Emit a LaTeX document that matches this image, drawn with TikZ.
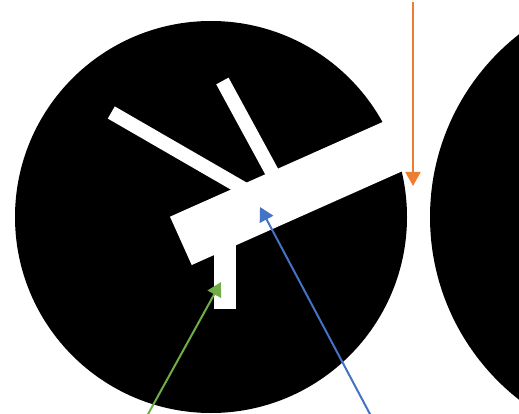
\documentclass[tikz,border=0pt]{standalone}
\usetikzlibrary{arrows.meta}
\definecolor{morange}{RGB}{237,125,49}
\definecolor{mblue}{RGB}{68,114,196}
\definecolor{mgreen}{RGB}{112,173,71}

\begin{document}
\begin{tikzpicture}[x=1pt, y=-1pt,
    disc/.style={fill=black},
    part/.style={fill=white},
    stick/.style={draw=white, line width=14pt},
    arr/.style={-{Triangle[length=14pt, width=15pt]}, line width=2pt},
  ]
    \useasboundingbox (0,0) rectangle (519,414);
    \clip (0,0) rectangle (519,414);

    \fill[disc] (211,217) circle[radius=196];
    \fill[disc] (662,217) circle[radius=232];

    \draw[stick] (111.3,112.5) -- (254.2,195);
    \draw[stick] (222.4,81)    -- (275,177.7);
    \fill[part]  (214,240) rectangle (236,309);
    \fill[part]  (170,216.7) -- (191.7,265) -- (420,163.3) -- (398.4,115) -- cycle;

    \coordinate (otail) at (413,2);
    \coordinate (otip)  at (413,186);
    \coordinate (btail) at (371,416);
    \coordinate (btip)  at (260,207);
    \coordinate (gtail) at (147,416);
    \coordinate (gtip)  at (221,282);

    \draw[arr, morange] (otail) -- (otip);
    \draw[arr, mblue]   (btail) -- (btip);
    \draw[arr, mgreen]  (gtail) -- (gtip);
  \end{tikzpicture}
\end{document}
